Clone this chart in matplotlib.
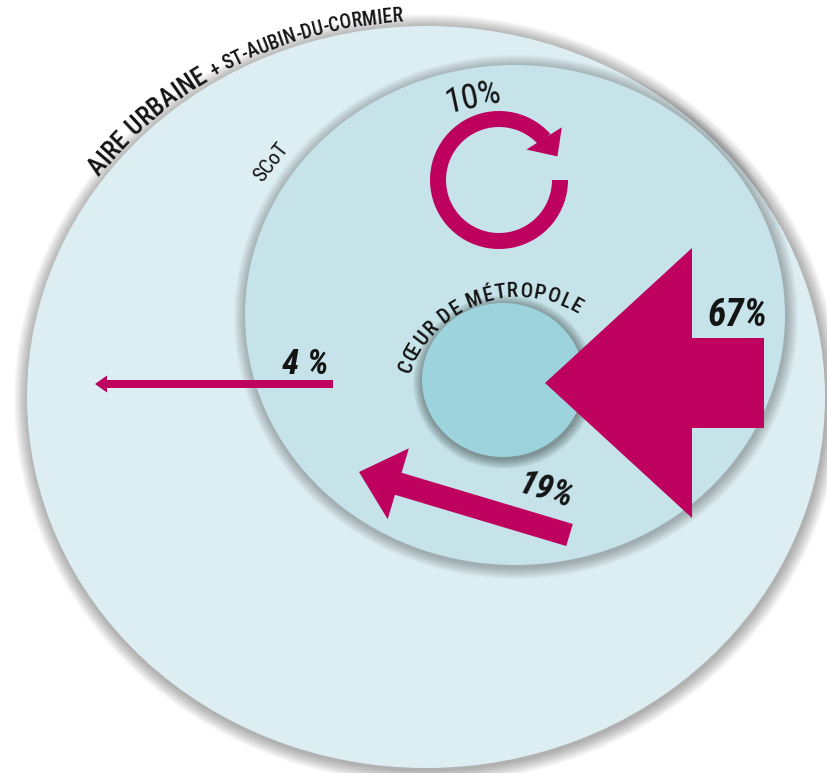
# Schéma des flux : cercles imbriqués (aire urbaine / SCoT / coeur de métropole)
# flèches proportionnelles aux parts de déplacements

import numpy as np
import matplotlib
matplotlib.use('Agg')
import matplotlib.pyplot as plt
from matplotlib.patches import Ellipse, Wedge, Polygon, FancyArrow
from matplotlib.font_manager import FontProperties
from matplotlib.textpath import TextToPath

# données
zone_names = ['AIRE URBAINE', '+ ST-AUBIN-DU-CORMIER', 'SCoT', 'CŒUR DE MÉTROPOLE']
flow_values = [67, 19, 10, 4]
flow_labels = ['67%', '19%', '10%', '4 %']

W, H = 828, 773
MAGENTA = '#be005e'
INK = '#141414'
FAM = ['Roboto Condensed', 'Liberation Sans', 'DejaVu Sans']

fig = plt.figure(figsize=(W / 100, H / 100), dpi=100)
ax = fig.add_axes([0, 0, 1, 1])
ax.set_xlim(0, W)
ax.set_ylim(H, 0)
ax.axis('off')


def disc(cx, cy, rx, ry, color, z, glow=12, dark=0.35):
    # ombre douce autour du cercle
    for i in range(glow):
        k = glow * (1 - i / glow)
        ax.add_patch(Ellipse((cx + 1, cy + 2), 2 * (rx + k), 2 * (ry + k),
                             fc='black', ec='none', alpha=dark / glow, zorder=z))
    ax.add_patch(Ellipse((cx, cy), 2 * rx, 2 * ry, fc=color, ec='none', zorder=z + 0.5))


def char_centers(s, fp):
    ttp = TextToPath()
    ref = ttp.get_text_width_height_descent('I', fp, ismath=False)[0]
    w = [0.0] + [ttp.get_text_width_height_descent(s[:k] + 'I', fp, ismath=False)[0] - ref
                 for k in range(1, len(s) + 1)]
    return [(w[k] + w[k + 1]) / 2 for k in range(len(s))]


def curved_text(s, cx, cy, rx, ry, t0, t1, weight='medium', track=1.0):
    # texte le long d'une ellipse, t0/t1 = angles du 1er et dernier caractère
    # taille de police choisie pour remplir l'arc
    t = np.radians(np.linspace(0, 360, 3601))
    x = cx + rx * np.cos(t)
    y = cy + ry * np.sin(t)
    L = np.concatenate([[0], np.cumsum(np.hypot(np.diff(x), np.diff(y)))])
    s0 = np.interp(np.radians(t0), t, L)
    s1 = np.interp(np.radians(t1), t, L)
    fp = FontProperties(family=FAM, size=10, weight=weight)
    c = char_centers(s, fp)
    nat = (c[-1] - c[0]) * 100 / 72
    fp = FontProperties(family=FAM, size=10 * (s1 - s0) / nat / track, weight=weight)
    centers = char_centers(s, fp)
    first, last = centers[0], centers[-1]
    for ch, c in zip(s, centers):
        if ch == ' ':
            continue
        sp = s0 + (c - first) / (last - first) * (s1 - s0)
        tc = np.interp(sp, L, t)
        px = cx + rx * np.cos(tc)
        py = cy + ry * np.sin(tc)
        tx, ty = -rx * np.sin(tc), ry * np.cos(tc)
        rot = np.degrees(np.arctan2(-ty, tx))
        ax.text(px, py, ch, rotation=rot, rotation_mode='anchor', ha='center',
                va='baseline', fontproperties=fp, color=INK, zorder=9)


# cercles
disc(426, 397, 399, 371, '#ddeef3', 1, glow=14, dark=0.33)
disc(515, 315, 270, 250, '#c5e3e9', 3, glow=12, dark=0.3)
disc(503, 380, 81, 77, '#9dd3dc', 5, glow=10, dark=0.4)

# flèches
ax.add_patch(FancyArrow(764, 383, -219, 0, width=90, head_width=270, head_length=147,
                        length_includes_head=True, fc=MAGENTA, ec='none', zorder=7))
ax.add_patch(FancyArrow(569.5, 535, -210.5, -63, width=23, head_width=74, head_length=41,
                        length_includes_head=True, fc=MAGENTA, ec='none', zorder=7))
ax.add_patch(FancyArrow(333, 384, -238, 0, width=8, head_width=17, head_length=12,
                        length_includes_head=True, fc=MAGENTA, ec='none', zorder=7))

# flèche circulaire (flux internes)
rc = (499, 180)
ax.add_patch(Wedge(rc, 69, 0, 318, width=16, fc=MAGENTA, ec='none', zorder=7))
a = np.radians
head = [(rc[0] + 82 * np.cos(a(320)), rc[1] + 82 * np.sin(a(320))),
        (rc[0] + 63 * np.cos(a(338)), rc[1] + 63 * np.sin(a(338))),
        (rc[0] + 41 * np.cos(a(312)), rc[1] + 41 * np.sin(a(312)))]
ax.add_patch(Polygon(head, closed=True, fc=MAGENTA, ec='none', zorder=7))

# étiquettes
pct = dict(family=FAM, style='italic', weight='bold', color=INK, ha='center', va='center', zorder=9)
ax.text(738, 316, flow_labels[0], size=27, **pct)
ax.text(546, 491, flow_labels[1], size=25, rotation=-17, **pct)
ax.text(473, 98, flow_labels[2], size=25, rotation=12, family=FAM, color=INK,
        ha='center', va='center', zorder=9)
ax.text(305, 364, flow_labels[3], size=25, **pct)

# noms des zones
curved_text(zone_names[0], 426, 397, 404, 376, 217, 236.5)
curved_text(zone_names[1], 426, 397, 404, 376, 239, 266)
ax.text(271, 162, zone_names[2], size=15, rotation=52, family=FAM, color=INK,
        ha='center', va='center', zorder=9)
curved_text(zone_names[3], 517, 410, 113, 113, 201.5, 299.5, track=1.08)

fig.savefig('out.png', dpi=100)
